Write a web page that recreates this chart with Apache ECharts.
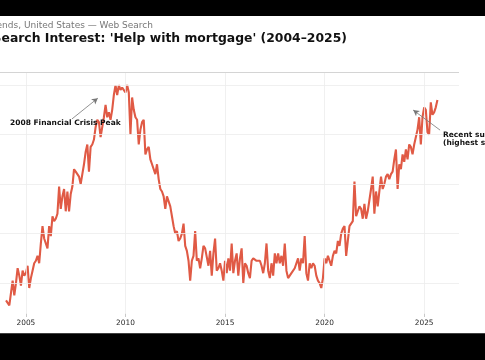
<!DOCTYPE html>
<html>
<head>
<meta charset="utf-8">
<script src="https://cdn.jsdelivr.net/npm/echarts@6/dist/echarts.min.js"></script>
<style>
html,body{margin:0;padding:0;background:#fff;}
#chart{width:485px;height:360px;}
</style>
</head>
<body>
<div id="chart"></div>
<script>
// Monthly series starting January 2004
const startYear = 2004;
const interest = [
  13,12,11,16,21,15,20,26,23,19,25,23,   // 2004
  24,27,18,22,25,28,29,31,28,36,43,38,   // 2005
  38,34,43,39,47,45,46,48,59,50,55,58,   // 2006
  49,57,49,56,59,66,65,65,63,60,64,68,   // 2007
  73,76,65,75,76,78,83,86,85,79,83,87,   // 2008
  92,87,89,86,90,96,100,96,100,98,99,99, // 2009
  97,100,97,80,95,90,87,86,76,82,85,86,  // 2010
  72,74,75,70,68,66,64,68,62,58,57,55,   // 2011
  50,55,53,51,47,43,40,41,37,38,40,44,   // 2012
  35,33,29,21,29,31,41,29,30,26,30,35,   // 2013
  34,34,27,33,23,32,38,25,26,28,25,21,   // 2014
  29,24,30,25,36,24,29,32,23,30,34,20,   // 2015
  28,27,24,22,29,30,30,29,29,29,27,24,   // 2016
  28,36,25,22,28,23,32,28,32,28,31,27,   // 2017
  36,25,22,23,24,24,26,28,30,25,30,28,   // 2018
  39,24,21,28,26,28,27,23,21,20,18,22,   // 2019
  30,28,31,29,27,31,33,32,37,35,40,42,   // 2020
  43,31,37,43,43,45,61,47,49,51,50,46,   // 2021
  52,46,49,49,58,63,48,57,51,57,63,58,   // 2022
  60,63,64,62,64,65,70,74,58,68,66,72,   // 2023
  69,74,70,76,75,72,76,76,82,87,76,87,   // 2024
  91,90,81,80,93,88,89,91,94             // 2025
];
const yearTicks = [2005, 2010, 2015, 2020, 2025];
const gridValues = [20, 40, 60, 80, 100];
const titleText = "Search Interest: 'Help with mortgage' (2004–2025)";
const subtitleText = "Source: Google Trends, United States — Web Search";
const peakNote = '2008 Financial Crisis Peak';
const peakArrow = [[2007.31, 86.3], [2008.61, 94.7]];
const surgeNote = 'Recent surge\n(highest since 2009)';
const surgeArrow = [[2025.80, 81.8], [2024.45, 89.9]];

const xMin = 2002.92, xMax = 2026.75, yMin = 7.7, yMax = 105;
const seriesData = interest.map((v, i) => [startYear + i / 12, v]);

const chart = echarts.init(document.getElementById('chart'), null, {renderer: 'canvas'});
chart.setOption({
  animation: false,
  backgroundColor: '#ffffff',
  grid: {left: -15.5, right: 26, top: 72.7, bottom: 46.5, containLabel: false, outerBoundsMode: 'none'},
  xAxis: {
    type: 'value', min: xMin, max: xMax,
    axisLine: {show: false},
    axisTick: {show: true, customValues: yearTicks, length: 3.5, lineStyle: {color: '#bbbbbb', width: 0.8}},
    axisLabel: {customValues: yearTicks, formatter: v => String(v), fontFamily: 'DejaVu Sans', fontSize: 7.4, color: '#2a2a2a', margin: 6},
    splitLine: {show: false}
  },
  yAxis: {
    type: 'value', min: yMin, max: yMax,
    axisLine: {show: false}, axisTick: {show: false}, axisLabel: {show: false}, splitLine: {show: false}
  },
  series: [
    {
      type: 'line', data: seriesData, symbol: 'none', silent: true, z: 1,
      lineStyle: {opacity: 0},
      markLine: {
        silent: true, symbol: ['none', 'none'], label: {show: false}, animation: false,
        lineStyle: {color: '#ececec', width: 0.8, type: 'solid'},
        data: gridValues.map(v => ({yAxis: v}))
          .concat(yearTicks.map(v => ({xAxis: v})))
          .concat([{yAxis: yMax, lineStyle: {color: '#cfcfcf', width: 0.9, type: 'solid'}}])
      }
    },
    {
      type: 'line', data: seriesData, symbol: 'none', z: 3,
      lineStyle: {color: '#E05A45', width: 2.1},
      markLine: {
        silent: true, symbol: ['none', 'arrow'], symbolSize: [5, 6], label: {show: false}, animation: false,
        lineStyle: {color: '#777777', width: 0.8, type: 'solid'},
        data: [
          [{coord: peakArrow[0]}, {coord: peakArrow[1]}],
          [{coord: surgeArrow[0]}, {coord: surgeArrow[1]}]
        ]
      }
    }
  ],
  graphic: [
    {type: 'text', z: 10, style: {text: subtitleText, x: 153, y: 25.5, align: 'right', verticalAlign: 'middle', font: '9px "DejaVu Sans"', fill: '#777777'}},
    {type: 'text', z: 10, style: {text: titleText, x: 347, y: 38.5, align: 'right', verticalAlign: 'middle', font: 'bold 12.4px "DejaVu Sans"', fill: '#111111'}},
    {type: 'text', z: 10, style: {text: peakNote, x: 10, y: 123.5, align: 'left', verticalAlign: 'middle', font: 'bold 7.5px "DejaVu Sans"', fill: '#111111'}},
    {type: 'text', z: 10, style: {text: surgeNote, x: 443, y: 139, align: 'left', verticalAlign: 'middle', lineHeight: 8.5, font: 'bold 7.5px "DejaVu Sans"', fill: '#111111'}},
    {type: 'rect', z: 20, shape: {x: 0, y: 0, width: 485, height: 16}, style: {fill: '#000000'}},
    {type: 'rect', z: 20, shape: {x: 0, y: 333.3, width: 485, height: 27}, style: {fill: '#000000'}}
  ]
});
</script>
</body>
</html>
